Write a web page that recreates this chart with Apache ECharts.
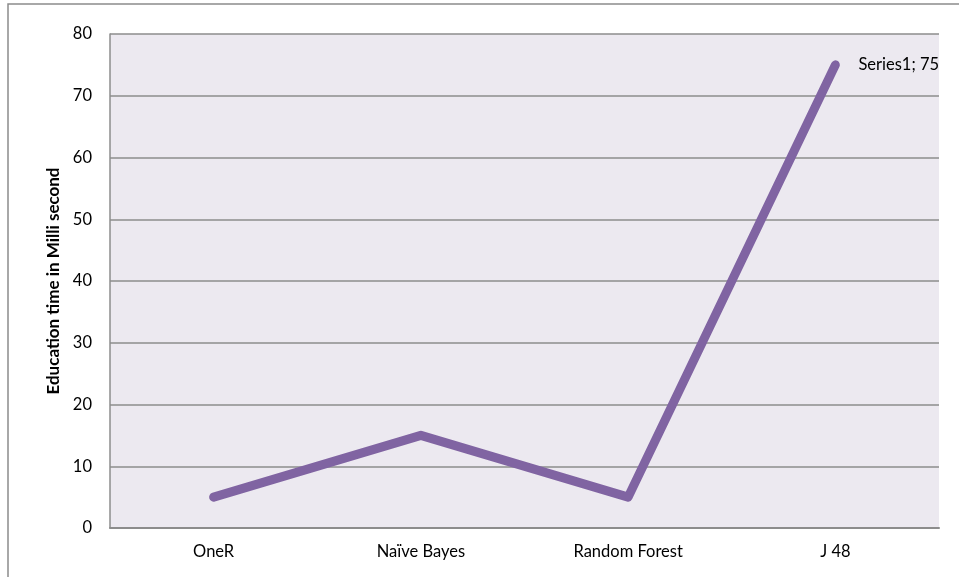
<!DOCTYPE html>
<html>
<head>
<meta charset="utf-8">
<script src="https://cdn.jsdelivr.net/npm/echarts@6/dist/echarts.min.js"></script>
<style>
  html, body { margin: 0; padding: 0; background: #ffffff; }
  #chart { width: 959px; height: 577px; }
</style>
</head>
<body>
<div id="chart"></div>
<script>
// Training time per classifier
const categories = ['OneR', 'Naïve Bayes', 'Random Forest', 'J 48'];
const seriesName = 'Series1';
const timesMs = [5, 15, 5, 75];
const yTicks = { min: 0, max: 80, interval: 10 };
const labelledIndex = 3;

const FONT = 'Lato, "Liberation Sans", sans-serif';

const chart = echarts.init(document.getElementById('chart'), null, { renderer: 'canvas' });

chart.setOption({
  animation: false,
  backgroundColor: '#ffffff',
  graphic: [{
    type: 'rect',
    shape: { x: 8, y: 4, width: 1000, height: 700 },
    style: { fill: 'none', stroke: '#8c8c8c', lineWidth: 1.5 },
    silent: true,
    z: -10
  }],
  grid: {
    left: 110, top: 34, right: 20, bottom: 49,
    show: true,
    backgroundColor: '#ECE9F0',
    borderWidth: 0
  },
  xAxis: {
    type: 'category',
    data: categories,
    boundaryGap: true,
    axisLine: { show: true, lineStyle: { color: '#8c8c8c', width: 2 } },
    axisTick: { show: false },
    axisLabel: { color: '#000', fontFamily: FONT, fontSize: 16.5, margin: 15 },
    splitLine: { show: false }
  },
  yAxis: {
    type: 'value',
    min: yTicks.min, max: yTicks.max, interval: yTicks.interval,
    name: 'Education time in Milli second',
    nameLocation: 'middle',
    nameGap: 40,
    nameRotate: 90,
    nameTextStyle: { color: '#000', fontFamily: FONT, fontSize: 17, fontWeight: 'bold' },
    axisLine: { show: true, lineStyle: { color: '#8c8c8c', width: 1.5 } },
    axisTick: { show: false },
    axisLabel: { color: '#000', fontFamily: FONT, fontSize: 16.5, margin: 18 },
    splitLine: { show: true, lineStyle: { color: '#8c8c8c', width: 1.5 } }
  },
  series: [{
    name: seriesName,
    type: 'line',
    data: timesMs.map((v, i) => i === labelledIndex ? {
      value: v,
      label: {
        show: true,
        position: 'right',
        distance: 20,
        formatter: p => seriesName + '; ' + p.value,
        color: '#000',
        fontFamily: FONT,
        fontSize: 16.5
      }
    } : v),
    symbol: 'circle',
    symbolSize: 6,
    itemStyle: { color: '#8064A2' },
    lineStyle: { color: '#8064A2', width: 9, cap: 'round', join: 'round' },
    label: { show: false }
  }]
});
</script>
</body>
</html>
